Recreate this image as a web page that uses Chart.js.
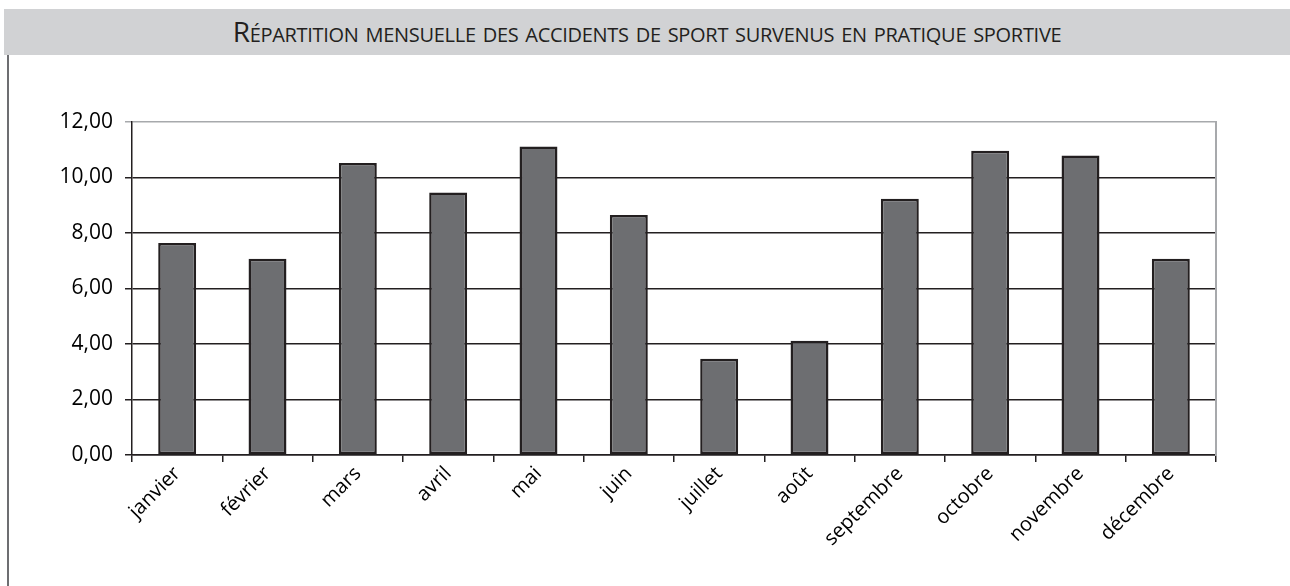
<!DOCTYPE html>
<html lang="fr">
<head>
<meta charset="utf-8">
<script src="https://cdn.jsdelivr.net/npm/chart.js@4"></script>
<style>
  html, body { margin: 0; padding: 0; background: #fff; }
  body { width: 1290px; height: 586px; position: relative; overflow: hidden; }
  #titre {
    position: absolute; left: 4px; top: 9px; width: 1286px; height: 46px;
    background: #d1d2d4; color: #231f20;
    font-family: "Open Sans", sans-serif; font-variant: small-caps; font-weight: 500;
    font-size: 28px; line-height: 44px; text-align: center; letter-spacing: -0.3px;
  }
  #bord { position: absolute; left: 7px; top: 55px; width: 2px; height: 531px; background: #6d6e71; }
  #wrap { position: absolute; left: 12px; top: 56px; width: 1278px; height: 530px; }
</style>
</head>
<body>
<div id="titre">Répartition mensuelle des accidents de sport survenus en pratique sportive</div>
<div id="bord"></div>
<div id="wrap"><canvas id="chart"></canvas></div>
<script>
const mois = ['janvier', 'février', 'mars', 'avril', 'mai', 'juin', 'juillet', 'août', 'septembre', 'octobre', 'novembre', 'décembre'];
const accidents = [7.64, 7.07, 10.52, 9.46, 11.12, 8.65, 3.47, 4.12, 9.23, 10.96, 10.79, 7.07];
const yMin = 0;
const yMax = 12;
const yStep = 2;

const sombre = '#231f20';
const gris = '#a7a9ac';

document.addEventListener("DOMContentLoaded", function () {
    new Chart(document.getElementById('chart'), {
        type: 'bar',
        data: {
            labels: mois,
            datasets: [{
                data: accidents,
                backgroundColor: '#6d6e71',
                borderColor: sombre,
                borderWidth: 2.5,
                borderSkipped: false,
                categoryPercentage: 1,
                barPercentage: 0.42
            }]
        },
        options: {
            responsive: true,
            maintainAspectRatio: false,
            animation: false,
            layout: { padding: { top: 66, right: 74, left: 0, bottom: 0 } },
            plugins: { legend: { display: false }, tooltip: { enabled: false } },
            scales: {
                x: {
                    offset: true,
                    grid: { offset: true, drawOnChartArea: false, drawTicks: true, tickLength: 7, color: sombre, lineWidth: 1.5 },
                    border: { color: sombre, width: 1.5 },
                    ticks: {
                        color: '#000',
                        maxRotation: 45, minRotation: 45,
                        padding: 0,
                        font: { family: 'Open Sans', size: 20, weight: '500' }
                    },
                    afterFit: scale => { scale.height = 131; }
                },
                y: {
                    min: yMin, max: yMax,
                    grid: {
                        color: ctx => ctx.tick && ctx.tick.value === yMax ? gris : sombre,
                        lineWidth: 1.5,
                        tickLength: 7
                    },
                    border: { color: sombre, width: 1.5 },
                    ticks: {
                        stepSize: yStep,
                        color: '#000',
                        padding: 12,
                        font: { family: 'Open Sans', size: 21, weight: '500' },
                        callback: v => v.toFixed(2).replace('.', ',')
                    },
                    afterFit: scale => { scale.width = 120; }
                },
                y2: {
                    position: 'right',
                    min: yMin, max: yMax,
                    grid: { drawOnChartArea: false, drawTicks: false },
                    border: { color: gris, width: 2 },
                    ticks: { display: false },
                    afterFit: scale => { scale.width = 0; }
                }
            }
        }
    });
});
</script>
</body>
</html>
